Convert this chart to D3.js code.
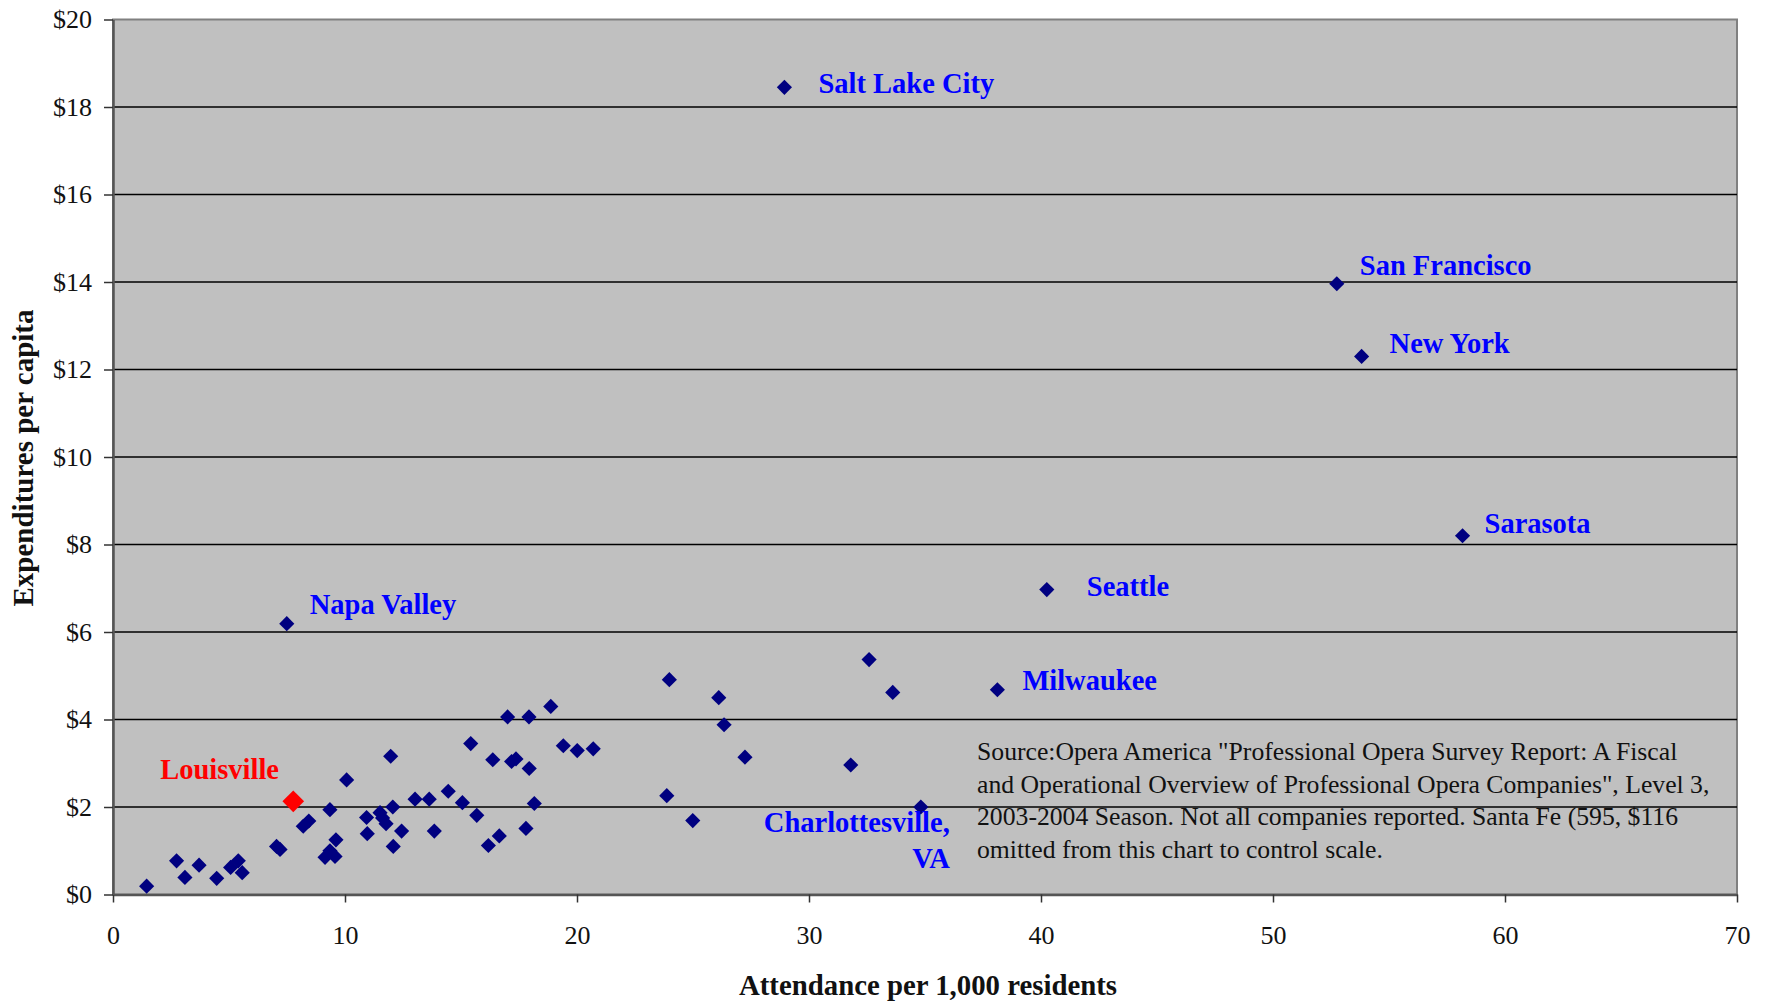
<!DOCTYPE html>
<html>
<head>
<meta charset="utf-8">
<script src="https://cdn.jsdelivr.net/npm/d3@7"></script>
<style>
  body { margin: 0; background: #fff; }
  svg text { font-family: "Liberation Serif", "DejaVu Serif", serif; }
</style>
</head>
<body>
<svg id="chart"></svg>
<script>
// unlabeled opera companies: attendance per 1,000 residents, expenditure per capita ($)
const attendance = [1.45, 2.74, 3.10, 3.71, 4.47, 5.07, 5.40, 5.57, 7.05, 7.20,
  8.20, 8.44, 9.35, 9.14, 9.35, 9.57, 9.61, 10.07, 10.93, 10.96,
  11.51, 11.62, 11.77, 11.97, 12.06, 12.08, 12.44, 13.02, 13.63, 13.85,
  14.45, 15.06, 15.42, 15.68, 16.18, 16.65, 16.37, 17.01, 17.18, 17.37,
  17.93, 17.94, 17.80, 18.16, 18.87, 19.41, 20.01, 20.70, 23.98, 23.87,
  24.99, 26.11, 26.34, 27.24, 31.80, 32.59, 33.61];
const expenditure = [0.19, 0.77, 0.39, 0.67, 0.37, 0.62, 0.77, 0.50, 1.10, 1.03,
  1.56, 1.68, 1.94, 0.85, 1.00, 0.87, 1.25, 2.62, 1.76, 1.39,
  1.87, 1.75, 1.62, 3.16, 2.00, 1.10, 1.45, 2.18, 2.18, 1.45,
  2.36, 2.10, 3.45, 1.81, 1.12, 1.34, 3.08, 4.06, 3.04, 3.10,
  4.06, 2.88, 1.51, 2.08, 4.30, 3.40, 3.29, 3.33, 4.91, 2.26,
  1.69, 4.50, 3.88, 3.14, 2.96, 5.37, 4.62];

// labeled cities
const cityNames = ["Salt Lake City", "San Francisco", "New York", "Sarasota",
  "Seattle", "Milwaukee", "Napa Valley", "Charlottesville, VA"];
const cityAttendance = [28.94, 52.75, 53.82, 58.17, 40.25, 38.12, 7.49, 34.82];
const cityExpenditure = [18.45, 13.96, 12.30, 8.20, 6.97, 4.68, 6.19, 2.00];

// highlighted city
const highlightName = "Louisville";
const highlightAttendance = 7.77;
const highlightExpenditure = 2.13;

// axis ticks
const xTicks = [0, 10, 20, 30, 40, 50, 60, 70];
const yTicks = [0, 2, 4, 6, 8, 10, 12, 14, 16, 18, 20];

const xTitle = "Attendance per 1,000 residents";
const yTitle = "Expenditures per capita";
const sourceLines = [
  "Source:Opera America \"Professional Opera Survey Report: A Fiscal",
  "and Operational Overview of Professional Opera Companies\", Level 3,",
  "2003-2004 Season. Not all companies reported. Santa Fe (595, $116",
  "omitted from this chart to control scale."
];

// where each data label sits relative to its point (px)
const labelOffsets = {
  "Salt Lake City": [34, 6],
  "San Francisco": [23, -9],
  "New York": [28, -3],
  "Sarasota": [22, -3],
  "Seattle": [40, 6],
  "Milwaukee": [25, 0],
  "Napa Valley": [23, -10],
  "Charlottesville, VA": [29, 25]
};

const serif = "'Liberation Serif', 'DejaVu Serif', serif";
const width = 1772, height = 1003;
const margin = { top: 19.5, right: 35, bottom: 108.5, left: 113 };
const w = width - margin.left - margin.right;
const h = height - margin.top - margin.bottom;

const svg = d3.select("#chart").attr("width", width).attr("height", height);
const chart = svg.append("g").attr("transform", `translate(${margin.left},${margin.top})`);

const xScale = d3.scaleLinear().domain([0, 70]).range([0, w]);
const yScale = d3.scaleLinear().domain([0, 20]).range([h, 0]);

// plot area
chart.append("rect")
  .attr("width", w).attr("height", h)
  .attr("fill", "#c0c0c0")
  .attr("stroke", "#808080")
  .attr("stroke-width", 2);

// gridlines
chart.append("g")
  .selectAll("line")
  .data(yTicks.filter(d => d > 0 && d < 20))
  .join("line")
  .attr("x1", 0).attr("x2", w)
  .attr("y1", d => yScale(d)).attr("y2", d => yScale(d))
  .attr("stroke", "#000").attr("stroke-width", 1.3);

// axes
const xAxis = d3.axisBottom(xScale).tickValues(xTicks).tickSizeInner(8).tickSizeOuter(0).tickPadding(23);
const yAxis = d3.axisLeft(yScale).tickValues(yTicks).tickSizeInner(9).tickSizeOuter(0).tickPadding(12)
  .tickFormat(d => "$" + d);

const xAxisG = chart.append("g").attr("transform", `translate(0,${h})`).call(xAxis);
const yAxisG = chart.append("g").call(yAxis);

[xAxisG, yAxisG].forEach(g => {
  g.attr("font-family", serif).attr("font-size", 26);
  g.select(".domain").attr("stroke", "#555").attr("stroke-width", 2.5);
  g.selectAll(".tick line").attr("stroke", "#333").attr("stroke-width", 1.5);
  g.selectAll(".tick text")
    .attr("fill", "#111")
    .attr("font-family", serif)
    .style("font-family", serif)
    .style("font-size", "26px");
});

// axis titles
svg.append("text")
  .attr("x", margin.left + w / 2 + 3)
  .attr("y", 995)
  .attr("text-anchor", "middle")
  .style("font-size", "28.8px").style("font-weight", "bold")
  .attr("fill", "#111")
  .text(xTitle);

svg.append("text")
  .attr("transform", `translate(33,${margin.top + h / 2 + 1}) rotate(-90)`)
  .attr("text-anchor", "middle")
  .style("font-size", "29px").style("font-weight", "bold")
  .attr("fill", "#111")
  .text(yTitle);

// diamond markers
const diamond = d3.symbol().type(d3.symbolSquare).size(115);
const bigDiamond = d3.symbol().type(d3.symbolSquare).size(235);

const points = attendance.map((a, i) => ({ x: a, y: expenditure[i] }));
const cities = cityNames.map((n, i) => ({ name: n, x: cityAttendance[i], y: cityExpenditure[i] }));

chart.append("g")
  .selectAll("path")
  .data(points.concat(cities))
  .join("path")
  .attr("d", diamond)
  .attr("transform", d => `translate(${xScale(d.x)},${yScale(d.y)}) rotate(45)`)
  .attr("fill", "#000080");

chart.append("path")
  .attr("d", bigDiamond)
  .attr("transform", `translate(${xScale(highlightAttendance)},${yScale(highlightExpenditure)}) rotate(45)`)
  .attr("fill", "#ff0000");

// city labels
cities.forEach(c => {
  const off = labelOffsets[c.name];
  const px = xScale(c.x) + off[0], py = yScale(c.y) + off[1];
  const t = chart.append("text")
    .attr("fill", "#0000ff")
    .style("font-size", "28.5px").style("font-weight", "bold");
  if (c.name.indexOf(",") > -1) {
    // two-line right-aligned label
    const parts = c.name.split(", ");
    t.attr("text-anchor", "end");
    t.append("tspan").attr("x", px).attr("y", py).text(parts[0] + ",");
    t.append("tspan").attr("x", px).attr("y", py + 36).text(parts[1]);
  } else {
    t.attr("x", px).attr("y", py).text(c.name);
  }
});

chart.append("text")
  .attr("x", xScale(highlightAttendance) - 133)
  .attr("y", yScale(highlightExpenditure) - 22)
  .attr("fill", "#ff0000")
  .style("font-size", "28.5px").style("font-weight", "bold")
  .text(highlightName);

// source note
const note = svg.append("text")
  .attr("fill", "#111")
  .style("font-size", "25.7px");
sourceLines.forEach((line, i) => {
  note.append("tspan").attr("x", 977).attr("y", 760 + i * 32.7).text(line);
});
</script>
</body>
</html>
